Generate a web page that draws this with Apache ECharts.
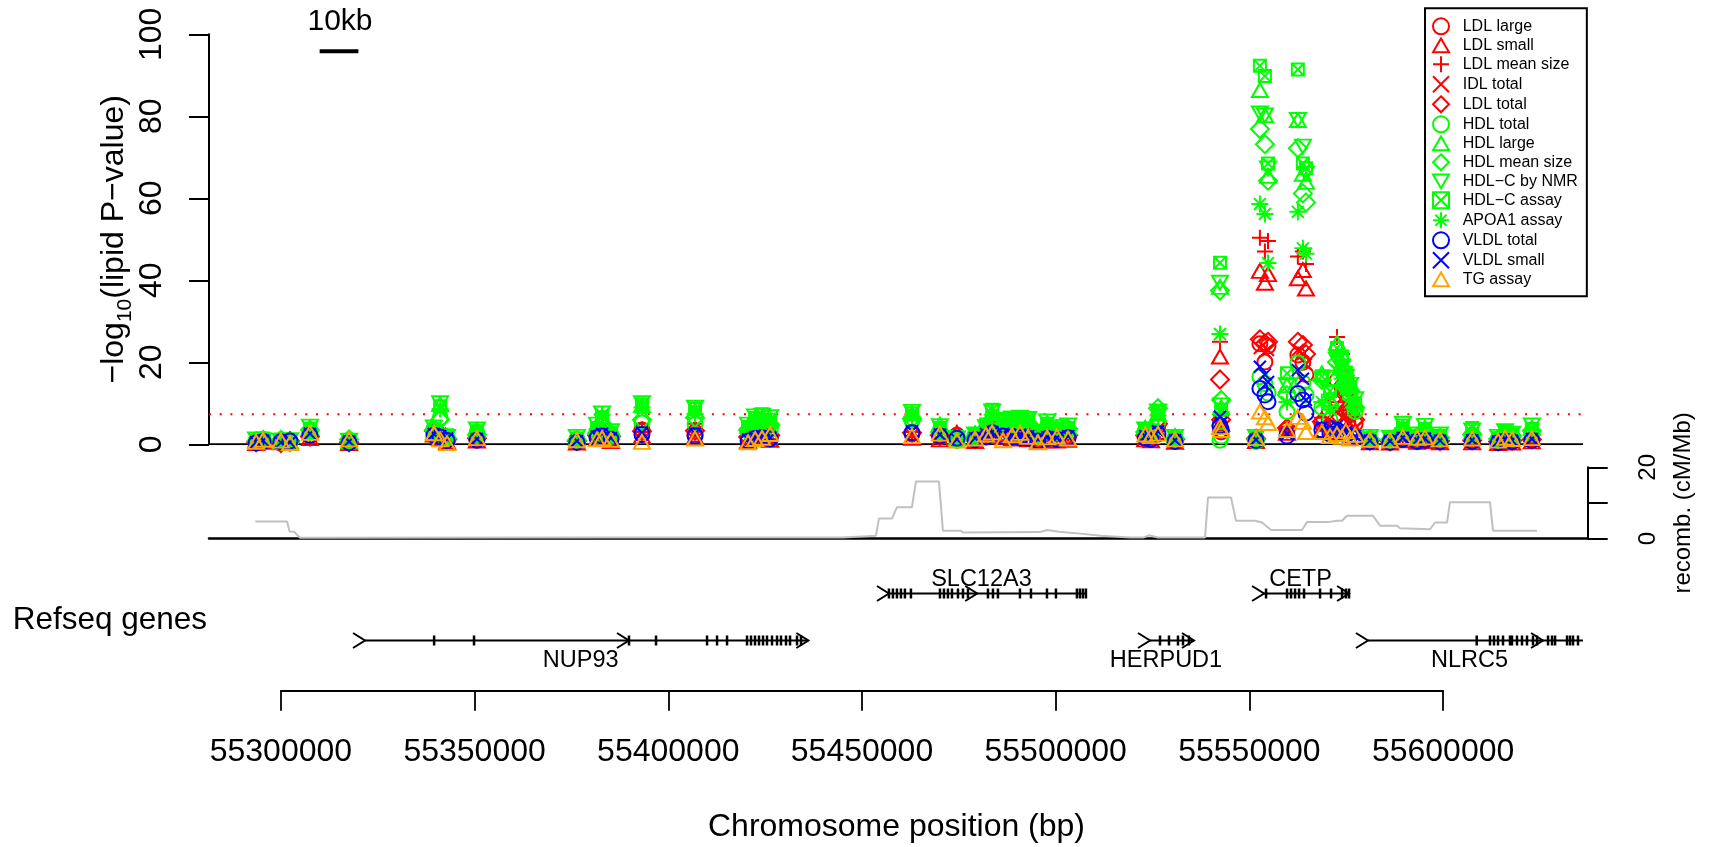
<!DOCTYPE html>
<html><head><meta charset="utf-8">
<script src="https://cdn.jsdelivr.net/npm/echarts@6/dist/echarts.min.js"></script>
<style>html,body{margin:0;padding:0;background:#fff}#c{width:1711px;height:847px}</style>
</head><body><div id="c"></div>
<script>
const FONT = '"Liberation Sans", Arial, Helvetica, sans-serif';

// ---------- SNP positions (bp) ----------
const snpPos = [55293600,55295400,55300000,55302350,55307500,55317600,55339500,55341100,55342900,55350600,
55376400,55381600,55382900,55385200,55393200,55406900,55420600,55422400,55424200,55426300,
55462900,55470100,55474500,55479200,55482000,55483600,55486400,55488700,55490800,55492900,
55495400,55497800,55500300,55503200,55523100,55524600,55526400,55530800,55542400,55542700,
55551700,55552700,55554000,55554800,55559700,55562500,55563800,55564600,55568700,55570800,
55572600,55573900,55574900,55576000,55577300,55581100,55586300,55589600,55593300,55595300,
55599200,55607500,55614200,55616000,55617800,55622900];

// ---------- -log10 P per trait ----------
const ldlLarge = [0.5,0.8,0.3,0.6,2.1,0.5,3.0,2.2,1.0,1.4, 0.7,2.0,2.8,1.6,3.5,2.4,1.5,2.2,2.8,1.9, 2.5,1.8,2.2,1.2,3.0,3.5,2.6,2.0,2.3,1.8, 1.0,1.6,1.4,1.8,1.8,1.5,4.5,1.0,4.5,3.0, 1.2,24.5,20.1,24.0,3.5,21.8,20.0,17.0,5.0,4.0, 15.5,14.0,16.0,8.0,5.0,0.8,0.6,1.5,0.9,1.3, 0.7,0.8,0.5,0.8,0.6,1.0];
const ldlSmall = [0.3,0.6,0.5,0.4,1.5,0.3,2.4,1.5,0.6,0.9, 0.4,1.4,1.9,0.8,2.0,1.8,0.8,1.2,1.6,1.1, 1.6,1.2,2.8,0.8,2.0,2.5,1.8,1.4,1.5,1.2, 0.6,1.0,0.9,1.1,1.2,1.0,3.0,0.6,21.4,5.0, 0.8,42.3,39.4,41.5,2.8,40.5,42.5,38.0,3.5,3.0, 12.0,10.0,9.0,5.5,3.0,0.5,0.4,1.0,0.6,0.8, 0.5,0.5,0.3,0.6,0.4,0.7];
const ldlMeanSize = [0.6,0.4,0.7,0.2,1.8,0.6,1.8,1.9,1.3,1.2, 0.9,2.5,3.3,2.2,3.0,5.0,2.0,3.0,4.0,3.0, 3.0,1.5,1.6,1.5,2.6,5.5,3.8,3.2,3.6,2.9, 1.5,2.4,2.0,2.6,2.5,2.0,6.0,0.8,25.0,7.0, 1.0,50.4,47.0,49.6,4.3,45.8,47.0,44.0,6.5,5.5, 26.2,22.0,18.0,12.0,6.5,1.0,0.8,2.0,1.2,1.6, 1.0,1.2,0.8,1.2,1.0,1.3];
const idlTotal = [0.4,0.9,0.4,0.5,2.4,0.4,2.9,2.6,0.8,1.7, 0.6,1.8,2.4,1.3,2.6,2.0,1.2,1.8,2.3,1.5, 2.2,2.0,1.8,1.0,2.2,3.0,2.2,1.9,2.0,1.5, 0.9,1.4,1.3,1.6,1.5,1.3,3.8,0.9,5.0,4.0, 1.1,23.5,22.5,23.0,3.0,23.0,22.0,19.5,4.5,3.5, 8.0,6.5,7.0,5.0,4.0,0.7,0.5,1.3,0.8,1.1, 0.6,0.7,0.6,0.9,0.7,0.9];
const ldlTotal = [0.5,0.7,0.3,0.8,1.9,0.5,3.3,2.4,1.2,1.5, 0.8,2.2,3.0,1.9,3.2,3.3,1.8,2.5,3.2,2.2, 2.8,2.2,1.5,1.3,2.8,4.0,3.0,2.4,2.7,2.1, 1.3,1.9,1.6,2.2,2.2,1.8,5.0,1.2,15.8,6.0, 1.4,25.6,24.6,25.0,4.0,25.0,24.2,22.0,5.5,4.8, 10.5,9.0,12.0,7.5,6.0,0.9,0.7,1.6,1.0,1.4, 0.8,1.0,0.7,1.0,0.9,1.2];
const hdlTotal = [0.8,1.2,0.9,0.4,3.2,1.0,3.7,6.5,1.6,2.8, 1.2,3.0,4.8,2.4,5.2,5.0,3.2,4.5,4.0,3.5, 5.8,3.2,1.0,2.2,3.8,5.5,4.5,4.8,5.0,4.6, 2.2,4.0,3.0,3.4,3.2,2.5,5.5,1.6,1.0,2.0, 0.7,16.5,14.8,12.5,8.0,19.8,15.0,12.0,9.0,6.0, 23.0,18.0,14.0,12.0,8.0,1.2,1.0,3.0,1.6,2.6, 1.4,2.2,1.2,2.0,1.6,2.5];
const hdlLarge = [1.0,1.5,0.6,0.7,4.1,0.7,2.9,9.8,2.0,3.4, 1.5,4.4,6.8,3.0,9.5,8.2,4.5,6.0,6.5,5.8, 7.5,4.8,1.6,2.5,4.6,7.8,5.6,6.0,6.3,6.0, 2.8,5.2,4.0,4.2,4.0,3.0,7.5,2.0,38.4,9.0, 1.5,86.4,80.3,65.5,14.4,79.1,66.0,64.0,17.3,11.0, 24.7,22.0,18.5,15.0,10.5,1.6,1.4,4.2,2.2,4.0, 2.0,3.0,1.6,2.8,2.4,4.0];
const hdlMeanSize = [0.7,0.9,1.1,0.5,3.5,1.2,3.5,6.0,1.4,2.3, 1.0,2.7,5.0,2.1,6.0,6.5,3.5,5.2,5.8,4.7, 6.3,3.0,1.2,1.8,3.5,6.0,4.8,5.0,5.4,5.0, 2.0,4.4,3.3,3.8,3.0,2.6,8.8,1.4,37.5,10.8, 1.2,76.9,73.2,64.3,12.0,72.2,61.2,59.0,15.7,9.5, 20.0,17.5,15.0,13.0,9.0,1.3,1.1,3.4,1.8,3.2, 1.6,2.4,1.3,2.4,2.0,3.3];
const hdlcNmr = [1.2,1.0,0.8,1.0,4.3,0.9,4.1,10.0,1.8,3.6, 1.8,4.8,7.5,3.2,10.0,8.9,4.8,6.8,7.0,6.6, 7.9,4.4,1.4,2.4,4.2,8.0,6.0,6.3,6.5,6.2, 3.0,5.6,4.2,4.6,3.6,3.2,8.0,1.8,39.4,9.5, 1.8,80.7,80.2,67.3,14.4,79.1,72.6,66.0,16.0,12.5, 20.6,19.0,16.5,14.5,11.0,1.8,1.6,5.0,2.4,4.5, 2.4,3.4,1.8,3.2,2.6,4.6];
const hdlcAssay = [0.9,1.4,1.2,0.6,3.8,0.8,3.6,9.3,2.2,3.2, 1.4,4.0,6.6,2.7,9.7,8.6,4.2,6.4,7.3,6.0, 7.6,4.0,1.8,2.0,4.8,8.4,5.8,6.1,6.4,6.3, 2.6,5.0,3.8,4.0,3.4,2.9,7.8,1.5,44.3,8.5, 1.6,92.3,89.8,68.5,17.3,91.4,68.5,67.3,16.6,13.0, 23.5,21.4,17.5,14.0,10.0,1.5,1.3,4.6,2.0,3.8, 2.0,4.0,1.5,3.0,2.4,3.8];
const apoa1Assay = [0.6,1.1,0.5,0.3,2.9,0.6,2.8,8.6,1.5,2.5, 1.1,3.6,7.2,2.5,9.0,7.4,3.9,5.5,6.2,5.2, 6.8,3.5,1.1,2.6,3.9,7.2,5.2,5.6,5.9,5.5, 2.4,4.6,3.5,3.6,2.9,2.4,7.0,1.3,26.9,7.8, 1.3,58.6,56.2,44.2,10.3,56.7,47.8,46.5,10.3,8.5, 18.0,16.0,13.5,11.0,8.0,1.2,1.0,4.0,1.8,3.2, 1.7,2.8,1.2,2.6,2.0,3.5];
const vldlTotal = [0.3,0.7,0.6,0.8,2.2,0.4,2.2,1.8,0.9,1.0, 0.5,1.6,2.0,1.2,2.4,2.0,0.8,1.4,1.6,1.3, 2.8,2.0,1.5,1.1,1.8,2.8,2.0,1.8,1.6,1.5, 0.8,1.4,1.2,1.6,1.5,1.2,2.5,0.7,4.5,3.5, 0.9,13.6,12.0,10.4,2.0,12.4,10.8,7.6,3.5,2.5, 3.5,2.8,2.2,2.0,1.6,0.6,0.5,1.2,0.7,1.0, 0.6,0.7,0.4,0.8,0.6,0.9];
const vldlSmall = [0.5,0.9,0.4,0.5,2.6,0.7,2.5,2.0,1.4,1.3, 0.8,1.9,2.6,1.5,2.8,2.6,1.2,1.8,2.0,1.6, 3.2,2.4,1.2,1.5,2.5,3.0,2.6,2.2,2.4,2.0, 1.2,1.8,1.6,2.0,2.0,1.6,3.2,1.0,6.7,5.2, 1.1,18.9,17.0,15.2,2.5,18.1,16.0,10.8,4.0,3.2, 4.5,3.6,3.0,2.5,2.0,0.9,0.8,1.6,1.0,1.4, 0.9,1.0,0.7,1.2,0.9,1.3];
const tgAssay = [0.6,1.1,0.9,0.3,2.8,1.2,2.7,1.2,0.3,1.5, 1.0,1.2,1.5,1.1,0.6,1.4,0.5,1.3,1.6,2.5, 2.0,2.6,0.9,1.4,2.4,2.9,1.0,2.2,2.8,1.8, 0.5,1.7,1.9,1.4,2.4,2.0,2.6,1.2,4.2,3.5, 1.5,8.0,6.6,5.2,3.5,6.7,5.5,3.0,3.0,2.0, 2.5,1.8,3.2,1.4,2.3,1.1,1.0,1.8,1.6,1.7, 1.2,1.4,0.9,1.6,1.3,1.5];

const traitNames = ['LDL large','LDL small','LDL mean size','IDL total','LDL total','HDL total','HDL large','HDL mean size','HDL\u2212C by NMR','HDL\u2212C assay','APOA1 assay','VLDL total','VLDL small','TG assay'];
const traitValues = [ldlLarge, ldlSmall, ldlMeanSize, idlTotal, ldlTotal, hdlTotal, hdlLarge, hdlMeanSize, hdlcNmr, hdlcAssay, apoa1Assay, vldlTotal, vldlSmall, tgAssay];

// ---------- recombination rate (cM/Mb) ----------
const recombPos = [55293400,55301600,55302220,55303380,55304930,55381850,55445070,55453600,55454370,55457730,55459020,55462890,55463920,55469860,55470890,55475540,55476060,55495940,55497750,55500850,55507040,55511690,55519180,55522790,55524080,55526400,55538540,55539310,55545250,55546540,55551440,55553250,55555570,55563570,55564870,55570290,55572610,55573900,55575190,55581900,55583710,55588100,55588870,55596620,55597910,55601010,55601780,55612100,55612880,55624240];
const recombRate = [4.8,4.8,2.0,1.9,0.2,0.3,0.3,0.8,5.6,5.6,8.8,8.8,16.0,16.0,2.2,2.2,1.7,1.8,2.4,1.9,1.3,0.8,0.3,0.3,0.9,0.3,0.3,11.5,11.5,5.0,5.0,4.5,2.4,2.4,4.6,4.6,5.0,5.0,6.4,6.4,3.6,3.6,2.9,2.6,4.5,4.5,10.2,10.2,2.2,2.2];

// ---------- RefSeq genes ----------
const geneNames = ['NUP93','SLC12A3','CETP','HERPUD1','NLRC5'];
const geneStart = [55321710,55456950,55553780,55524340,55580600];
const geneEnd = [55436160,55507800,55575720,55535690,55636100];
const geneTrack = [1,0,0,1,1];
const geneArrows = [[55321710,55389840,55436160],[55456950,55479740],[55553780,55575720],[55524340,55535690],[55580600,55625790]];
const geneExons = [
 [55339550,55349850,55389860,55396830,55410000,55412580,55415160,55420320,55421350,55422380,55423410,55424450,55425480,55426770,55428060,55429090,55430380,55431420,55433220,55434260],
 [55456950,55457980,55459020,55460050,55461080,55462630,55470120,55471150,55472180,55473220,55474770,55476060,55477350,55482510,55483800,55485090,55490770,55493610,55497740,55500060,55505480,55506260,55507030,55507800],
 [55554290,55559710,55560740,55561780,55562810,55564100,55568230,55571070,55573910,55574940,55575720],
 [55526920,55529240,55531560,55532850,55534400],
 [55608670,55612100,55613130,55614170,55615460,55617260,55617780,55619070,55620360,55621650,55623200,55624240,55627080,55628110,55628890,55631990,55632760,55633530,55634820]
];

// ---------- axes / reference values ----------
const xMin = 55281440, xMax = 55637320, zeroLineEnd = 55636100;
const bottomAxisMin = 55300000, bottomAxisMax = 55600000, bottomAxisStep = 50000;
const gwThreshold = 7.3;
const scaleBarStart = 55310000, scaleBarEnd = 55320000, scaleBarY = 95.85;

// ---------- styles ----------
const RED='#FF0000', GREEN='#00FF00', BLUE='#0000FF', ORANGE='#FFA500';
const traitColors = [RED,RED,RED,RED,RED,GREEN,GREEN,GREEN,GREEN,GREEN,GREEN,BLUE,BLUE,ORANGE];
const SYM = {
  circle: ['circle', 15],
  tri: ['path://M0,-10 L10,7.3 L-10,7.3 Z', [16,14]],
  plus: ['path://M0,-10 L0,10 M-10,0 L10,0', 16],
  cross: ['path://M-10,-10 L10,10 M-10,10 L10,-10', 12],
  diamond: ['path://M0,-10 L10,0 L0,10 L-10,0 Z', 18],
  dtri: ['path://M-10,-7.3 L10,-7.3 L0,10 Z', [16,14]],
  boxx: ['path://M-10,-10 L10,-10 L10,10 L-10,10 Z M-10,-10 L10,10 M-10,10 L10,-10', 12],
  star: ['path://M0,-10 L0,10 M-10,0 L10,0 M-7,-7 L7,7 M-7,7 L7,-7', 17]
};
const traitSymbols = ['circle','tri','plus','cross','diamond','circle','tri','diamond','dtri','boxx','star','circle','cross','tri'];

const chart = echarts.init(document.getElementById('c'), null, {renderer:'canvas'});

const scatterSeries = traitNames.map((name, k) => ({
  name, type:'scatter', xAxisIndex:0, yAxisIndex:0, z:3,
  symbol: SYM[traitSymbols[k]][0], symbolSize: SYM[traitSymbols[k]][1],
  itemStyle: {color:'rgba(0,0,0,0)', borderColor: traitColors[k], borderWidth:2, opacity:1},
  emphasis:{disabled:true},
  data: snpPos.map((p,i)=>[p, traitValues[k][i]])
}));

const option = {
  animation:false,
  backgroundColor:'#fff',
  grid: [
    {left:209, right:123.3, top:34.3, height:410, containLabel:false, outerBoundsMode:'none'},
    {left:209, right:123.3, top:467.3, height:71.2, containLabel:false, outerBoundsMode:'none'},
    {left:209, right:123.3, top:593.5, height:47, containLabel:false, outerBoundsMode:'none'},
    {left:280.9, right:267.9, top:640, height:50.7, containLabel:false, outerBoundsMode:'none'}
  ],
  xAxis: [
    {gridIndex:0, type:'value', min:xMin, max:xMax, show:false},
    {gridIndex:1, type:'value', min:xMin, max:xMax, position:'bottom',
      axisLine:{show:true, onZero:false, lineStyle:{color:'#000', width:2.5}},
      axisTick:{show:false}, axisLabel:{show:false}, splitLine:{show:false}},
    {gridIndex:2, type:'value', min:xMin, max:xMax, show:false},
    {gridIndex:3, type:'value', min:bottomAxisMin, max:bottomAxisMax, interval:bottomAxisStep, position:'bottom',
      axisLine:{show:true, onZero:false, lineStyle:{color:'#000', width:1.8}},
      axisTick:{show:true, inside:false, length:20, lineStyle:{color:'#000', width:1.8}},
      axisLabel:{show:true, margin:45, fontSize:32, fontFamily:FONT, color:'#000', formatter:v=>String(v), hideOverlap:false},
      splitLine:{show:false}}
  ],
  yAxis: [
    {gridIndex:0, type:'value', min:0, max:100, interval:20, position:'left',
      axisLine:{show:true, onZero:false, lineStyle:{color:'#000', width:2}},
      axisTick:{show:true, inside:false, length:20, lineStyle:{color:'#000', width:2}},
      axisLabel:{show:true, rotate:90, margin:41, fontSize:32, fontFamily:FONT, color:'#000'},
      splitLine:{show:false},
      name:'{m|\u2212log}{s|10}{m|(lipid P\u2212value)}', nameLocation:'middle', nameRotate:90, nameGap:73, nameMoveOverlap:false,
      nameTextStyle:{fontSize:32, fontFamily:FONT, color:'#000',
        rich:{m:{fontSize:32, fontFamily:FONT, color:'#000', lineHeight:44, verticalAlign:'middle'},
              s:{fontSize:21, fontFamily:FONT, color:'#000', lineHeight:22, verticalAlign:'bottom'}}}},
    {gridIndex:1, type:'value', min:0, max:20, interval:10, position:'right',
      axisLine:{show:true, onZero:false, lineStyle:{color:'#000', width:2}},
      axisTick:{show:true, inside:false, length:20, lineStyle:{color:'#000', width:2}},
      axisLabel:{show:true, rotate:90, margin:49, fontSize:24, fontFamily:FONT, color:'#000', formatter:v=> (v===10 ? '' : String(v))},
      splitLine:{show:false},
      name:'recomb. (cM/Mb)', nameLocation:'middle', nameRotate:90, nameGap:84, nameMoveOverlap:false,
      nameTextStyle:{fontSize:24, fontFamily:FONT, color:'#000'}},
    {gridIndex:2, type:'value', min:0, max:1, inverse:true, show:false},
    {gridIndex:3, type:'value', min:0, max:1, show:false}
  ],
  legend: {
    show:true, data:traitNames, orient:'vertical', left:1425, top:8.3,
    padding:[9,9,9,7], itemWidth:16, itemHeight:16, itemGap:2.0,
    borderColor:'#000', borderWidth:2, backgroundColor:'#fff', selectedMode:false,
    itemStyle:{borderWidth:2},
    textStyle:{fontSize:16, lineHeight:16, fontFamily:FONT, color:'#000', padding:[0,0,0,8.7]}
  },
  graphic: [
    {type:'text', x:340, y:22, style:{text:'10kb', fontSize:30, fontFamily:FONT, fill:'#000', align:'center', verticalAlign:'middle'}},
    {type:'text', x:12.7, y:620, style:{text:'Refseq genes', fontSize:31.5, fontFamily:FONT, fill:'#000', align:'left', verticalAlign:'middle'}},
    {type:'text', x:896.5, y:826.7, style:{text:'Chromosome position (bp)', fontSize:32, fontFamily:FONT, fill:'#000', align:'center', verticalAlign:'middle'}}
  ],
  series: [
    {type:'line', name:'zero', xAxisIndex:0, yAxisIndex:0, z:1, silent:true, symbol:'none',
      lineStyle:{color:'#000', width:2}, data:[[xMin,0],[zeroLineEnd,0]]},
    {type:'line', name:'threshold', xAxisIndex:0, yAxisIndex:0, z:1, silent:true, symbol:'none',
      lineStyle:{color:RED, width:2, type:[2,8.7]}, data:[[xMin,gwThreshold],[zeroLineEnd,gwThreshold]]},
    {type:'line', name:'scalebar', xAxisIndex:0, yAxisIndex:0, z:2, silent:true, symbol:'none',
      lineStyle:{color:'#000', width:4, cap:'butt'}, data:[[scaleBarStart,scaleBarY],[scaleBarEnd,scaleBarY]]},
    {type:'line', name:'recomb', xAxisIndex:1, yAxisIndex:1, silent:true, symbol:'none',
      lineStyle:{color:'#C0C0C0', width:2}, data: recombPos.map((p,i)=>[p, recombRate[i]])},
    {type:'custom', name:'genes', xAxisIndex:2, yAxisIndex:2, silent:true, clip:false,
      data: geneNames.map((n,i)=>[geneStart[i], geneEnd[i], geneTrack[i], i]),
      encode:{x:[0,1], y:2},
      renderItem:function(params, api){
        const i = api.value(3), tr = api.value(2);
        const p0 = api.coord([api.value(0), tr]);
        const p1 = api.coord([api.value(1), tr]);
        const y = p0[1];
        const ch = [];
        ch.push({type:'line', shape:{x1:p0[0], y1:y, x2:p1[0], y2:y}, style:{stroke:'#000', lineWidth:2}});
        geneExons[i].forEach(e=>{
          const x = api.coord([e, tr])[0];
          ch.push({type:'line', shape:{x1:x, y1:y-5, x2:x, y2:y+5}, style:{stroke:'#000', lineWidth:2.5}});
        });
        geneArrows[i].forEach(a=>{
          const x = api.coord([a, tr])[0];
          ch.push({type:'polyline', shape:{points:[[x-12,y-7.5],[x,y],[x-12,y+7.5]]}, style:{stroke:'#000', lineWidth:2, fill:'none'}});
        });
        const lx = (p0[0]-12+p1[0])/2;
        const ly = tr===0 ? y-13.5 : y+20.5;
        ch.push({type:'text', x:lx, y:ly, style:{text:geneNames[i], fontSize:23.5, fontFamily:FONT, fill:'#000', align:'center', verticalAlign:'middle'}});
        return {type:'group', children:ch};
      }}
  ].concat(scatterSeries)
};
chart.setOption(option);
</script></body></html>
